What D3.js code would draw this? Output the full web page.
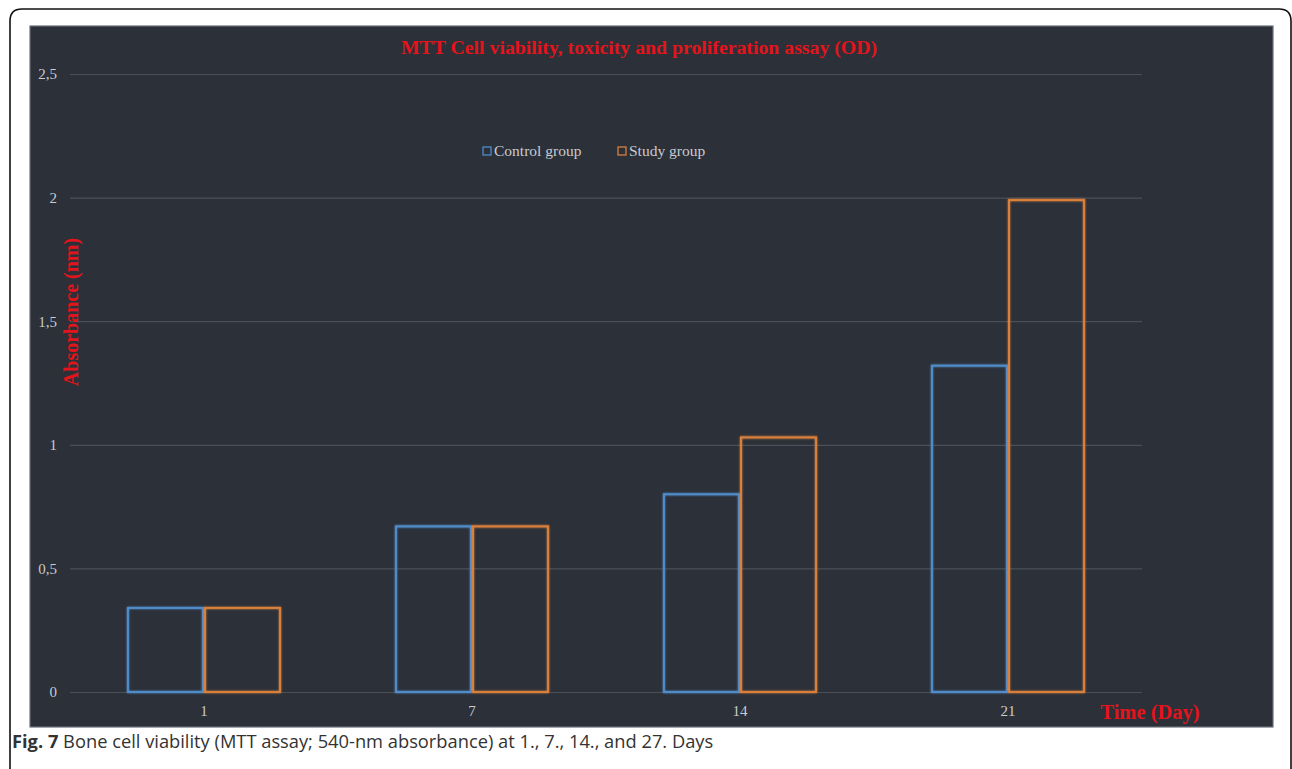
<!DOCTYPE html>
<html>
<head>
<meta charset="utf-8">
<script src="https://cdn.jsdelivr.net/npm/d3@7"></script>
<style>
  body { margin: 0; background: #fff; }
  svg { display: block; }
</style>
</head>
<body>
<svg id="chart" width="1292" height="769"></svg>
<script>
var days = ["1", "7", "14", "21"];
var seriesNames = ["Control group", "Study group"];
var controlValues = [0.34, 0.67, 0.80, 1.32];
var studyValues = [0.34, 0.67, 1.03, 1.99];
var yTicks = [0, 0.5, 1, 1.5, 2, 2.5];
var yTickLabels = ["0", "0,5", "1", "1,5", "2", "2,5"];
var colors = ["#4f8cc9", "#d9803c"];

var svg = d3.select("svg#chart");

// outer rounded frame of the figure
svg.append("path")
   .attr("d", "M10,780 L10,21 Q10,9 22,9 L1279,9 Q1291,9 1291,21 L1291,780")
   .attr("fill", "none")
   .attr("stroke", "#111")
   .attr("stroke-width", 1.6);

// dark chart panel
svg.append("rect")
   .attr("x", 30).attr("y", 26)
   .attr("width", 1243).attr("height", 701)
   .attr("fill", "#2b3039")
   .attr("stroke", "#6a6f78")
   .attr("stroke-width", 1.2);

var margin = {left: 70, right: 1142, top: 74, bottom: 692};

var x0 = d3.scaleBand()
    .domain(days)
    .range([margin.left, margin.right])
    .paddingInner(0.425)
    .paddingOuter(0.2125);

var x1 = d3.scaleBand()
    .domain(seriesNames)
    .range([0, x0.bandwidth()]);

var y = d3.scaleLinear()
    .domain([0, 2.5])
    .range([margin.bottom, margin.top]);

// gridlines + y labels
var yAxis = d3.axisLeft(y)
    .tickValues(yTicks)
    .tickSize(-(margin.right - margin.left))
    .tickPadding(13)
    .tickFormat(function(d, i) { return yTickLabels[i]; });

var gy = svg.append("g")
    .attr("transform", "translate(" + margin.left + ",0)")
    .call(yAxis);
gy.select(".domain").remove();
gy.selectAll(".tick line").attr("stroke", "#4b5058").attr("stroke-width", 1.2);
gy.selectAll(".tick text")
  .attr("fill", "#c9cbce")
  .attr("font-family", "Liberation Serif, serif")
  .attr("font-size", 15);

// x labels
var xAxis = d3.axisBottom(x0).tickSize(0).tickPadding(13);
var gx = svg.append("g")
    .attr("transform", "translate(0," + margin.bottom + ")")
    .call(xAxis);
gx.select(".domain").remove();
gx.selectAll(".tick text")
  .attr("fill", "#c9cbce")
  .attr("font-family", "Liberation Serif, serif")
  .attr("font-size", 15);

// glow for bar outlines
var defs = svg.append("defs");
var glow = defs.append("filter").attr("id", "glow")
    .attr("x", "-10%").attr("y", "-10%").attr("width", "120%").attr("height", "120%");
glow.append("feGaussianBlur").attr("stdDeviation", 1.2).attr("result", "b");
var merge = glow.append("feMerge");
merge.append("feMergeNode").attr("in", "b");
merge.append("feMergeNode").attr("in", "SourceGraphic");

var rows = days.map(function(d, i) {
  return {day: d, values: [controlValues[i], studyValues[i]]};
});

var groups = svg.selectAll(".day")
    .data(rows)
    .enter().append("g")
    .attr("class", "day")
    .attr("transform", function(d) { return "translate(" + x0(d.day) + ",0)"; });

groups.selectAll("rect")
    .data(function(d) { return d.values.map(function(v, i) { return {name: seriesNames[i], value: v, i: i}; }); })
    .enter().append("rect")
    .attr("x", function(d) { return x1(d.name) + 1; })
    .attr("y", function(d) { return y(d.value); })
    .attr("width", x1.bandwidth() - 2)
    .attr("height", function(d) { return y(0) - y(d.value); })
    .attr("fill", "none")
    .attr("stroke", function(d) { return colors[d.i]; })
    .attr("stroke-width", 2)
    .attr("filter", "url(#glow)");

// title
svg.append("text")
   .attr("x", 639).attr("y", 54)
   .attr("text-anchor", "middle")
   .attr("fill", "#e3141b")
   .attr("font-family", "Liberation Serif, serif")
   .attr("font-weight", "bold")
   .attr("font-size", 19.8)
   .text("MTT Cell viability, toxicity and proliferation assay (OD)");

// legend
var legendX = [483, 618];
var legend = svg.selectAll(".legend")
    .data(seriesNames)
    .enter().append("g")
    .attr("class", "legend")
    .attr("transform", function(d, i) { return "translate(" + legendX[i] + ",151)"; });
legend.append("rect")
   .attr("x", 0).attr("y", -4)
   .attr("width", 8).attr("height", 8)
   .attr("fill", "none")
   .attr("stroke", function(d, i) { return colors[i]; })
   .attr("stroke-width", 1.3);
legend.append("text")
   .attr("x", 11).attr("y", 5)
   .attr("fill", "#c9cbce")
   .attr("font-family", "Liberation Serif, serif")
   .attr("font-size", 15.5)
   .text(function(d) { return d; });

// axis titles
svg.append("text")
   .attr("transform", "translate(78,312) rotate(-90)")
   .attr("text-anchor", "middle")
   .attr("fill", "#e3141b")
   .attr("font-family", "Liberation Serif, serif")
   .attr("font-weight", "bold")
   .attr("font-size", 20)
   .text("Absorbance (nm)");

svg.append("text")
   .attr("x", 1150).attr("y", 719)
   .attr("text-anchor", "middle")
   .attr("fill", "#e3141b")
   .attr("font-family", "Liberation Serif, serif")
   .attr("font-weight", "bold")
   .attr("font-size", 20.5)
   .text("Time (Day)");

// caption
var caption = svg.append("text")
   .attr("x", 12).attr("y", 748)
   .attr("fill", "#333")
   .attr("font-family", "Open Sans, sans-serif")
   .attr("font-size", 18.3);
caption.append("tspan").attr("font-weight", "bold").text("Fig. 7");
caption.append("tspan").text(" Bone cell viability (MTT assay; 540-nm absorbance) at 1., 7., 14., and 27. Days");
</script>
</body>
</html>
